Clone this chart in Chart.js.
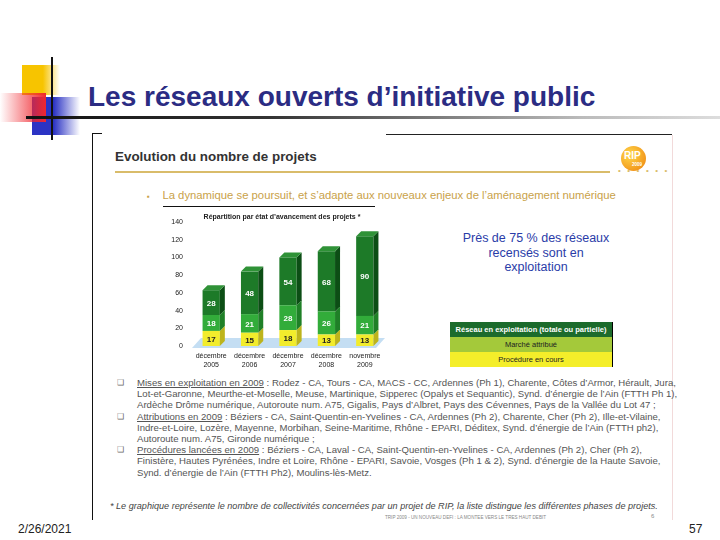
<!DOCTYPE html>
<html lang="fr">
<head>
<meta charset="utf-8">
<title>Les réseaux ouverts d'initiative public</title>
<script src="https://cdn.jsdelivr.net/npm/chart.js@4.4.1/dist/chart.umd.min.js"></script>
<style>
  html, body { margin: 0; padding: 0; background: #fff; }
  body { width: 720px; height: 540px; position: relative; overflow: hidden; font-family: "Liberation Sans", Arial, sans-serif; }
  .abs { position: absolute; }
  .nowrap { white-space: nowrap; }
  #title { left: 88px; top: 83px; font-size: 28px; line-height: 28px; font-weight: bold; color: #2B2C83; }
  #subhead { left: 115px; top: 149px; font-size: 13.4px; font-weight: bold; color: #333; }
  #intro { left: 147px; top: 189px; font-size: 11.3px; color: #C9A24A; }
  #blueNote { left: 455px; top: 231px; width: 162px; text-align: center; font-size: 12.5px; line-height: 14.5px; color: #2A3CA8; }
  #legendTable { left: 450px; top: 322px; width: 162px; border-right: 1px solid #000; }
  #legendTable div { height: 15px; line-height: 15px; text-align: center; font-size: 7.5px; }
  #bullets { left: 117px; top: 377px; font-size: 9.6px; line-height: 11.2px; color: #555; }
  #bullets .b { position: absolute; left: 0; font-size: 8px; color: #666; }
  #bullets .t { margin-left: 20px; }
  #footnote { left: 110px; top: 501px; font-size: 9.1px; font-style: italic; color: #444; }
  #tinyFooter { left: 385px; top: 515px; font-size: 4.6px; color: #888; }
</style>
</head>
<body>

<!-- slide decoration -->
<div class="abs" style="left:22px;top:65px;width:38px;height:30px;background:linear-gradient(to right,#F7C400 55%,rgba(255,255,255,0));"></div>
<div class="abs" style="left:32px;top:97px;width:48px;height:38px;background:linear-gradient(to right,#2B33C4 45%,rgba(255,255,255,0));"></div>
<div class="abs" style="left:0;top:93px;width:46px;height:29px;background:linear-gradient(to right,rgba(255,255,255,0),#F0262E);"></div>
<div class="abs" style="left:51px;top:57px;width:2px;height:83px;background:#111;"></div>
<div class="abs" style="left:26px;top:116px;width:694px;height:3px;background:linear-gradient(to right,#111 0%,#333 35%,#bbb 80%,#ddd 100%);"></div>
<div id="title" class="abs nowrap">Les réseaux ouverts d’initiative public</div>

<!-- embedded slide frame -->
<div class="abs" style="left:92px;top:133px;width:1px;height:387px;background:#111;"></div>
<div class="abs" style="left:92px;top:133px;width:10px;height:1px;background:#111;"></div>
<div class="abs" style="left:386px;top:134px;width:286px;height:1px;background:#222;"></div>
<div class="abs" style="left:672px;top:135px;width:1px;height:385px;background:#f2dada;"></div>

<div id="subhead" class="abs nowrap">Evolution du nombre de projets</div>
<div class="abs" style="left:115px;top:171px;width:495px;height:2px;background:#D9BC6A;"></div>
<div class="abs nowrap" style="left:618px;top:166px;font-size:8px;letter-spacing:6.5px;color:#D9BC6A;">••••••</div>
<div class="abs" style="left:621px;top:146px;width:25px;height:25px;border-radius:50%;background:radial-gradient(circle at 35% 35%,#FFD84A,#F39A1E 70%,#E9801A);"></div>
<div class="abs nowrap" style="left:624px;top:151px;font-size:10px;line-height:10px;font-weight:bold;color:#fff;">RIP</div>
<div class="abs nowrap" style="left:632px;top:162px;font-size:4.5px;line-height:5px;font-weight:bold;color:#fff;">2009</div>

<div id="intro" class="abs nowrap"><span style="font-size:8px;">▪</span>&nbsp;&nbsp;&nbsp;&nbsp;La dynamique se poursuit, et s’adapte aux nouveaux enjeux de l’aménagement numérique</div>

<div id="blueNote" class="abs">Près de 75 % des réseaux<br>recensés sont en<br>exploitation</div>

<div id="legendTable" class="abs">
  <div style="background:#1C6B2C;color:#fff;font-weight:bold;">Réseau en exploitation (totale ou partielle)</div>
  <div style="background:#A4C93A;color:#222;">Marché attribué</div>
  <div style="background:#F4EE2A;color:#222;">Procédure en cours</div>
</div>

<!-- chart box -->
<div class="abs" style="left:163px;top:206px;width:212px;height:1px;background:#111;"></div>
<canvas id="projectsChart" class="abs" width="230" height="170" style="left:160px;top:205px;"></canvas>

<div id="bullets" class="abs nowrap">
  <div style="position:relative;"><span class="b">❑</span><div class="t"><u>Mises en exploitation en 2009</u> : Rodez - CA, Tours - CA, MACS - CC, Ardennes (Ph 1), Charente, Côtes d’Armor, Hérault, Jura,<br>Lot-et-Garonne, Meurthe-et-Moselle, Meuse, Martinique, Sipperec (Opalys et Sequantic), Synd. d’énergie de l’Ain (FTTH Ph 1),<br>Ardèche Drôme numérique, Autoroute num. A75, Gigalis, Pays d’Albret, Pays des Cévennes, Pays de la Vallée du Lot 47 ;</div></div>
  <div style="position:relative;"><span class="b">❑</span><div class="t"><u>Attributions en 2009</u> : Béziers - CA, Saint-Quentin-en-Yvelines - CA, Ardennes (Ph 2), Charente, Cher (Ph 2), Ille-et-Vilaine,<br>Indre-et-Loire, Lozère, Mayenne, Morbihan, Seine-Maritime, Rhône - EPARI, Déditex, Synd. d’énergie de l’Ain (FTTH ph2),<br>Autoroute num. A75, Gironde numérique ;</div></div>
  <div style="position:relative;"><span class="b">❑</span><div class="t"><u>Procédures lancées en 2009</u> : Béziers - CA, Laval - CA, Saint-Quentin-en-Yvelines - CA, Ardennes (Ph 2), Cher (Ph 2),<br>Finistère, Hautes Pyrénées, Indre et Loire, Rhône - EPARI, Savoie, Vosges (Ph 1 &amp; 2), Synd. d’énergie de la Haute Savoie,<br>Synd. d’énergie de l’Ain (FTTH Ph2), Moulins-lès-Metz.</div></div>
</div>

<div id="footnote" class="abs nowrap">* Le graphique représente le nombre de collectivités concernées par un projet de RIP, la liste distingue les différentes phases de projets.</div>
<div id="tinyFooter" class="abs nowrap">TRIP 2009 - UN NOUVEAU DEFI : LA MONTEE VERS LE TRES HAUT DEBIT</div>
<div class="abs nowrap" style="left:651px;top:513px;font-size:6px;color:#888;">6</div>

<div class="abs nowrap" style="left:18px;top:522px;font-size:12px;color:#222;">2/26/2021</div>
<div class="abs nowrap" style="left:689px;top:522px;font-size:12px;color:#222;">57</div>

<script>
// --- DATA ---
const periodLabels = [['décembre', '2005'], ['décembre', '2006'], ['décembre', '2007'], ['décembre', '2008'], ['novembre', '2009']];
const procedureEnCours = [17, 15, 18, 13, 13];
const marcheAttribue = [18, 21, 28, 26, 21];
const reseauExploitation = [28, 48, 54, 68, 90];
const seriesNames = ['Procédure en cours', 'Marché attribué', 'Réseau en exploitation (totale ou partielle)'];
const yMax = 140;
const yStep = 20;
const chartTitle = 'Répartition par état d\u2019avancement des projets *';

// --- COLOURS ---
const faceColors = ['#F2EC2C', '#32AC3A', '#1D7A28'];
const sideColors = ['#BDB41C', '#1F8027', '#0C4E15'];
const topColors = ['#F7F26A', '#5CC363', '#2F9237'];
const labelColors = ['#222', '#fff', '#fff'];

const DEPTH_X = 5;
const DEPTH_Y = 5;

// floor under the bars, light blue
const floorPlugin = {
    id: 'floor3d',
    beforeDatasetsDraw(chart) {
        const { ctx, chartArea } = chart;
        const z = chart.scales.y.getPixelForValue(0);
        ctx.save();
        ctx.fillStyle = '#C4DEF3';
        ctx.beginPath();
        ctx.moveTo(chartArea.left, z + 2);
        ctx.lineTo(chartArea.right - 8, z + 2);
        ctx.lineTo(chartArea.right + 1, z - 8);
        ctx.lineTo(chartArea.left + 9, z - 8);
        ctx.closePath();
        ctx.fill();
        ctx.restore();
    }
};

// side and top faces + value labels
const bars3dPlugin = {
    id: 'bars3d',
    afterDatasetsDraw(chart) {
        const ctx = chart.ctx;
        const nSets = chart.data.datasets.length;
        ctx.save();
        chart.data.datasets.forEach((ds, di) => {
            const meta = chart.getDatasetMeta(di);
            meta.data.forEach((bar) => {
                const half = bar.width / 2;
                const right = bar.x + half;
                const left = bar.x - half;
                ctx.fillStyle = sideColors[di];
                ctx.beginPath();
                ctx.moveTo(right, bar.y);
                ctx.lineTo(right + DEPTH_X, bar.y - DEPTH_Y);
                ctx.lineTo(right + DEPTH_X, bar.base - DEPTH_Y);
                ctx.lineTo(right, bar.base);
                ctx.closePath();
                ctx.fill();
                if (di === nSets - 1) {
                    ctx.fillStyle = topColors[di];
                    ctx.beginPath();
                    ctx.moveTo(left, bar.y);
                    ctx.lineTo(left + DEPTH_X, bar.y - DEPTH_Y);
                    ctx.lineTo(right + DEPTH_X, bar.y - DEPTH_Y);
                    ctx.lineTo(right, bar.y);
                    ctx.closePath();
                    ctx.fill();
                }
            });
        });
        ctx.font = 'bold 8px "Liberation Sans", Arial, sans-serif';
        ctx.textAlign = 'center';
        ctx.textBaseline = 'middle';
        chart.data.datasets.forEach((ds, di) => {
            const meta = chart.getDatasetMeta(di);
            meta.data.forEach((bar, i) => {
                ctx.fillStyle = labelColors[di];
                ctx.fillText(String(ds.data[i]), bar.x, (bar.y + bar.base) / 2 + 1);
            });
        });
        ctx.restore();
    },
    afterDraw(chart) {
        const ctx = chart.ctx;
        ctx.save();
        ctx.font = 'bold 7px "Liberation Sans", Arial, sans-serif';
        ctx.fillStyle = '#222';
        ctx.textAlign = 'center';
        ctx.textBaseline = 'middle';
        ctx.fillText(chartTitle, 122, 12);
        ctx.restore();
    }
};

function renderProjectsChart() {
    const ctx = document.getElementById('projectsChart').getContext('2d');
    const values = [procedureEnCours, marcheAttribue, reseauExploitation];
    new Chart(ctx, {
        type: 'bar',
        data: {
            labels: periodLabels,
            datasets: values.map((v, i) => ({
                label: seriesNames[i],
                data: v,
                backgroundColor: faceColors[i],
                borderWidth: 0,
                barPercentage: 0.9,
                categoryPercentage: 0.5
            }))
        },
        options: {
            responsive: false,
            animation: false,
            events: [],
            layout: { padding: { top: 17, bottom: 3, left: 0, right: 6 } },
            plugins: {
                legend: { display: false },
                title: { display: false },
                tooltip: { enabled: false }
            },
            scales: {
                x: {
                    stacked: true,
                    grid: { display: false, drawTicks: false },
                    border: { display: false },
                    ticks: {
                        color: '#222',
                        padding: 5,
                        font: { size: 7, family: '"Liberation Sans", Arial, sans-serif', lineHeight: 1.35 }
                    },
                    afterFit(scale) { scale.height = 26; }
                },
                y: {
                    stacked: true,
                    min: 0,
                    max: yMax,
                    grid: { display: false, drawTicks: false },
                    border: { display: false },
                    ticks: {
                        stepSize: yStep,
                        color: '#222',
                        padding: 9,
                        font: { size: 7, family: '"Liberation Sans", Arial, sans-serif' }
                    },
                    afterFit(scale) { scale.width = 32; }
                }
            }
        },
        plugins: [floorPlugin, bars3dPlugin]
    });
}

document.addEventListener('DOMContentLoaded', () => {
    renderProjectsChart();
});
</script>
</body>
</html>
